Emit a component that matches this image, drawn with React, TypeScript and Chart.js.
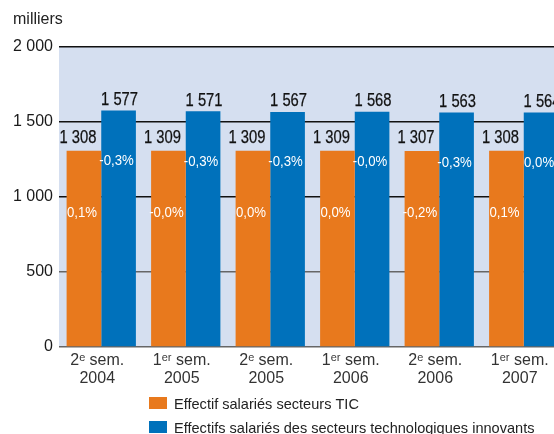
import React, { useEffect, useRef } from "react";
import { Chart, registerables } from "chart.js";

Chart.register(...registerables);

const categories: string[][] = [
  ["2ᵉ sem.", "2004"],
  ["1ᵉʳ sem.", "2005"],
  ["2ᵉ sem.", "2005"],
  ["1ᵉʳ sem.", "2006"],
  ["2ᵉ sem.", "2006"],
  ["1ᵉʳ sem.", "2007"],
];
const ticValues = [1308, 1309, 1309, 1309, 1307, 1308];
const innovValues = [1577, 1571, 1567, 1568, 1563, 1564];
const ticPct = ["0,1%", "-0,0%", "0,0%", "0,0%", "-0,2%", "0,1%"];
const innovPct = ["-0,3%", "-0,3%", "-0,3%", "-0,0%", "-0,3%", "0,0%"];
const seriesNames = [
  "Effectif salariés secteurs TIC",
  "Effectifs salariés des secteurs technologiques innovants",
];
const yTicks = [0, 500, 1000, 1500, 2000];

const ORANGE = "#e8791d";
const BLUE = "#0071bb";
const BG = "#d5dff0";
const FONT = "'Liberation Sans', Arial, 'DejaVu Sans', sans-serif";

const fmt = (v: number) => {
  const s = String(Math.round(v));
  return s.replace(/\B(?=(\d{3})+(?!\d))/g, " ");
};

function drawScaled(ctx: CanvasRenderingContext2D, text: string, x: number, y: number, sx: number, stroke = 0) {
  ctx.save();
  ctx.translate(x, y);
  ctx.scale(sx, 1);
  if (stroke > 0) {
    ctx.lineWidth = stroke;
    ctx.strokeStyle = ctx.fillStyle as string;
    ctx.strokeText(text, 0, 0);
  }
  ctx.fillText(text, 0, 0);
  ctx.restore();
}

export default function App() {
  const ref = useRef<HTMLCanvasElement | null>(null);

  useEffect(() => {
    const canvas = ref.current;
    if (!canvas) return;

    const bgPlugin = {
      id: "bgPlugin",
      beforeDraw(chart: any) {
        const { ctx, chartArea } = chart;
        ctx.save();
        ctx.fillStyle = BG;
        ctx.fillRect(chartArea.left, chartArea.top, chartArea.right - chartArea.left, chartArea.bottom - chartArea.top);
        ctx.restore();
      },
    };

    const labelPlugin = {
      id: "labelPlugin",
      afterDatasetsDraw(chart: any) {
        const ctx: CanvasRenderingContext2D = chart.ctx;
        ctx.save();
        ctx.textAlign = "center";
        ctx.textBaseline = "alphabetic";
        chart.data.datasets.forEach((ds: any, di: number) => {
          const meta = chart.getDatasetMeta(di);
          meta.data.forEach((bar: any, i: number) => {
            const val = ds.data[i];
            // value label
            ctx.fillStyle = "#111";
            ctx.font = `18px ${FONT}`;
            const vx = di === 0 ? bar.x - 6 : bar.x + 1;
            const vy = di === 0 ? bar.y - 8 : bar.y - 5.5;
            drawScaled(ctx, fmt(val), vx, vy, 0.82, 0.25);
            // percentage label
            ctx.fillStyle = "#ffffff";
            ctx.font = `15px ${FONT}`;
            const pct = di === 0 ? ticPct[i] : innovPct[i];
            const py = di === 0 ? bar.y + 61 + 5.5 : bar.y + 49 + 5.5;
            drawScaled(ctx, pct, bar.x - 2, py, 0.88);
          });
        });
        ctx.restore();
      },
      afterDraw(chart: any) {
        const ctx: CanvasRenderingContext2D = chart.ctx;
        ctx.save();
        // unit
        ctx.fillStyle = "#222";
        ctx.font = `16px ${FONT}`;
        ctx.textAlign = "left";
        ctx.textBaseline = "alphabetic";
        ctx.fillText("milliers", 13, 24);
        // legend
        const colors = [ORANGE, BLUE];
        seriesNames.forEach((name, i) => {
          const y0 = 397 + i * 24;
          ctx.fillStyle = colors[i];
          ctx.fillRect(149, y0, 18, 12);
          ctx.fillStyle = "#222";
          ctx.font = `15px ${FONT}`;
          drawScaled(ctx, name, 174, y0 + 11.5, 0.97);
        });
        ctx.restore();
      },
    };

    const chart = new Chart(canvas, {
      type: "bar",
      data: {
        labels: categories,
        datasets: [
          { label: seriesNames[0], data: ticValues, backgroundColor: ORANGE, borderWidth: 0 },
          { label: seriesNames[1], data: innovValues, backgroundColor: BLUE, borderWidth: 0 },
        ],
      },
      options: {
        animation: false,
        responsive: false,
        maintainAspectRatio: false,
        layout: { padding: { left: 0, top: 47, right: 14, bottom: 0 } },
        plugins: {
          legend: { display: false },
          tooltip: { enabled: false },
          title: { display: false },
        },
        datasets: {
          bar: { categoryPercentage: 0.82, barPercentage: 1.0 },
        },
        scales: {
          x: {
            grid: { display: false },
            border: { display: false },
            ticks: {
              color: "#333",
              font: { family: FONT, size: 16, lineHeight: 1.15 },
              padding: -4,
              labelOffset: -4,
              maxRotation: 0,
              autoSkip: false,
            },
            afterFit(scale: any) {
              scale.height = 87;
            },
          },
          y: {
            min: 0,
            max: 2000,
            afterBuildTicks(scale: any) {
              scale.ticks = yTicks.map((v) => ({ value: v }));
            },
            grid: {
              drawTicks: false,
              color: (c: any) => (c.tick && c.tick.value >= 1000 ? "#111" : "#666"),
              lineWidth: 1.5,
            },
            border: { display: false },
            ticks: {
              color: "#1a1a1a",
              font: { family: FONT, size: 16 },
              padding: 6,
              callback: (v: any) => fmt(Number(v)),
            },
            afterFit(scale: any) {
              scale.width = 59;
            },
          },
        },
      },
      plugins: [bgPlugin, labelPlugin],
    });

    return () => {
      chart.destroy();
    };
  }, []);

  return (
    <div style={{ position: "fixed", left: 0, top: 0, width: 554, height: 434, overflow: "hidden", background: "#fff" }}>
      <canvas ref={ref} width={580} height={434} style={{ display: "block", width: 580, height: 434 }} />
    </div>
  );
}
